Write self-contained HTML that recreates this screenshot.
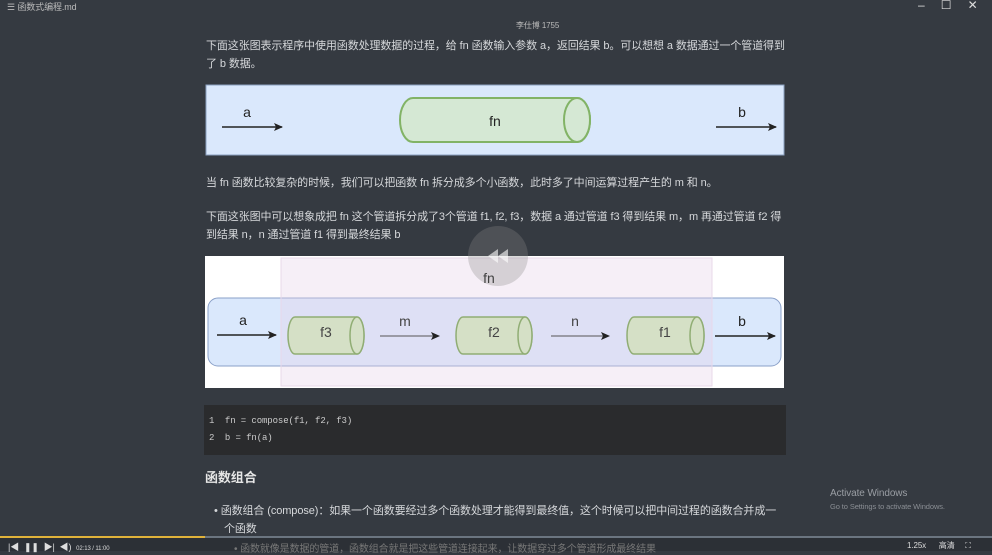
<!DOCTYPE html>
<html><head><meta charset="utf-8"><style>
body{margin:0;width:992px;height:551px;overflow:hidden;background:#353a41;font-family:"Liberation Sans","Noto Sans CJK SC",sans-serif;color:#d6d8db;position:relative}
.t{position:absolute;font-size:11px;white-space:nowrap;letter-spacing:-0.1px}
svg{position:absolute;left:0;top:0}
</style></head><body>
<div class="t" style="left:7px;top:0px;font-size:9px;color:#bbb">☰ 函数式编程.md</div>
<div class="t" style="left:918px;top:-2px;font-size:12px;color:#ddd">–&nbsp;&nbsp;&nbsp;&nbsp;&nbsp;☐&nbsp;&nbsp;&nbsp;&nbsp;&nbsp;✕</div>
<div class="t" style="left:516px;top:20px;font-size:8px;color:#bbb">李仕博 1755</div>
<div class="t" style="left:206px;top:37px">下面这张图表示程序中使用函数处理数据的过程，给 fn 函数输入参数 a，返回结果 b。可以想想 a 数据通过一个管道得到</div>
<div class="t" style="left:206px;top:55px">了 b 数据。</div>
<div class="t" style="left:206px;top:174px">当 fn 函数比较复杂的时候，我们可以把函数 fn 拆分成多个小函数，此时多了中间运算过程产生的 m 和 n。</div>
<div class="t" style="left:206px;top:208px">下面这张图中可以想象成把 fn 这个管道拆分成了3个管道 f1, f2, f3，数据 a 通过管道 f3 得到结果 m，m 再通过管道 f2 得</div>
<div class="t" style="left:206px;top:226px">到结果 n，n 通过管道 f1 得到最终结果 b</div>
<div style="position:absolute;left:204px;top:405px;width:582px;height:50px;background:#2a2b2d"></div>
<div class="t" style="left:209px;top:416px;font-family:'Liberation Mono',monospace;font-size:9px;color:#ccc">1&nbsp;&nbsp;fn = compose(f1, f2, f3)</div>
<div class="t" style="left:209px;top:433px;font-family:'Liberation Mono',monospace;font-size:9px;color:#ccc">2&nbsp;&nbsp;b = fn(a)</div>
<div class="t" style="left:205px;top:467px;font-size:13px;font-weight:bold;color:#e6e6e6">函数组合</div>
<div class="t" style="left:214px;top:502px">• 函数组合 (compose)：如果一个函数要经过多个函数处理才能得到最终值，这个时候可以把中间过程的函数合并成一</div>
<div class="t" style="left:224px;top:520px">个函数</div>
<div class="t" style="left:830px;top:488px;font-size:10px;color:#9a9ea4">Activate Windows</div>
<div class="t" style="left:830px;top:502px;font-size:7.5px;color:#8a8e94">Go to Settings to activate Windows.</div>
<div style="position:absolute;left:0;top:537px;width:992px;height:14px;background:#2c3036"></div>
<div style="position:absolute;left:0;top:536px;width:992px;height:2px;background:#6b7580"></div>
<div style="position:absolute;left:0;top:536px;width:205px;height:2px;background:#e0b23a"></div>
<div class="t" style="left:8px;top:540px;font-size:9px;color:#ddd">|◀&nbsp;&nbsp;❚❚&nbsp;&nbsp;▶|&nbsp;&nbsp;◀)&nbsp;&nbsp;<span style="font-size:6px">02:13 / 11:00</span></div>
<div class="t" style="left:234px;top:540px;font-size:10px;color:#777">• 函数就像是数据的管道，函数组合就是把这些管道连接起来，让数据穿过多个管道形成最终结果</div>
<div class="t" style="left:907px;top:540px;font-size:8px;color:#ddd">1.25x&nbsp;&nbsp;&nbsp;&nbsp;&nbsp;&nbsp;高清&nbsp;&nbsp;&nbsp;&nbsp;&nbsp;⛶</div>
<svg width="992" height="551" font-family="Liberation Sans,sans-serif">
<defs><marker id="ar" markerWidth="9" markerHeight="9" refX="8" refY="4.5" orient="auto" markerUnits="userSpaceOnUse"><path d="M0,0.5 L9,4.5 L0,8.5 L2,4.5Z" fill="#222"/></marker></defs>
<rect x="206" y="85" width="578" height="70" fill="#dae8fc" stroke="#8aa0c0"/>
<path d="M413,98 H577 A13,22 0 0 1 577,142 H413 A13,22 0 0 1 413,98Z" fill="#d5e8d4" stroke="#82b366" stroke-width="2"/>
<ellipse cx="577" cy="120" rx="13" ry="22" fill="#d5e8d4" stroke="#82b366" stroke-width="2"/>
<text x="495" y="126" font-size="14" fill="#222" text-anchor="middle">fn</text>
<line x1="222" y1="127" x2="282" y2="127" stroke="#222" stroke-width="1.5" marker-end="url(#ar)"/>
<text x="247" y="117" font-size="14" fill="#222" text-anchor="middle">a</text>
<line x1="716" y1="127" x2="776" y2="127" stroke="#222" stroke-width="1.5" marker-end="url(#ar)"/>
<text x="742" y="117" font-size="14" fill="#222" text-anchor="middle">b</text>

<rect x="205" y="256" width="579" height="132" fill="#fff"/>
<rect x="208" y="298" width="573" height="68" rx="10" fill="#dae8fc" stroke="#8aa0c8"/>
<rect x="281" y="258" width="431" height="128" fill="#e6d0e8" fill-opacity="0.35" stroke="#e8d8ea"/>
<g fill="#d5e0c6" stroke="#90ad74" stroke-width="1.5">
<path d="M295,317 H357 A7,18.5 0 0 1 357,354 H295 A7,18.5 0 0 1 295,317Z"/><ellipse cx="357" cy="335.5" rx="7" ry="18.5"/>
<path d="M463,317 H525 A7,18.5 0 0 1 525,354 H463 A7,18.5 0 0 1 463,317Z"/><ellipse cx="525" cy="335.5" rx="7" ry="18.5"/>
<path d="M634,317 H697 A7,18.5 0 0 1 697,354 H634 A7,18.5 0 0 1 634,317Z"/><ellipse cx="697" cy="335.5" rx="7" ry="18.5"/>
</g>
<g font-size="14" fill="#444" text-anchor="middle">
<text x="326" y="337">f3</text><text x="494" y="337">f2</text><text x="665" y="337">f1</text>
<text x="243" y="325" fill="#222">a</text><text x="405" y="326">m</text><text x="575" y="326">n</text><text x="742" y="326" fill="#222">b</text>
<text x="489" y="283" fill="#222">fn</text></g>
<line x1="217" y1="335" x2="276" y2="335" stroke="#222" stroke-width="1.5" marker-end="url(#ar)"/>
<line x1="380" y1="336" x2="439" y2="336" stroke="#555" stroke-width="1" marker-end="url(#ar)"/>
<line x1="551" y1="336" x2="609" y2="336" stroke="#555" stroke-width="1" marker-end="url(#ar)"/>
<line x1="715" y1="336" x2="775" y2="336" stroke="#222" stroke-width="1.5" marker-end="url(#ar)"/>
<circle cx="498" cy="256" r="30" fill="#888" fill-opacity="0.3"/>
<path d="M488,256 L498,249 V263Z M498,256 L508,249 V263Z" fill="#fff" fill-opacity="0.6"/>
</svg>
</body></html>
